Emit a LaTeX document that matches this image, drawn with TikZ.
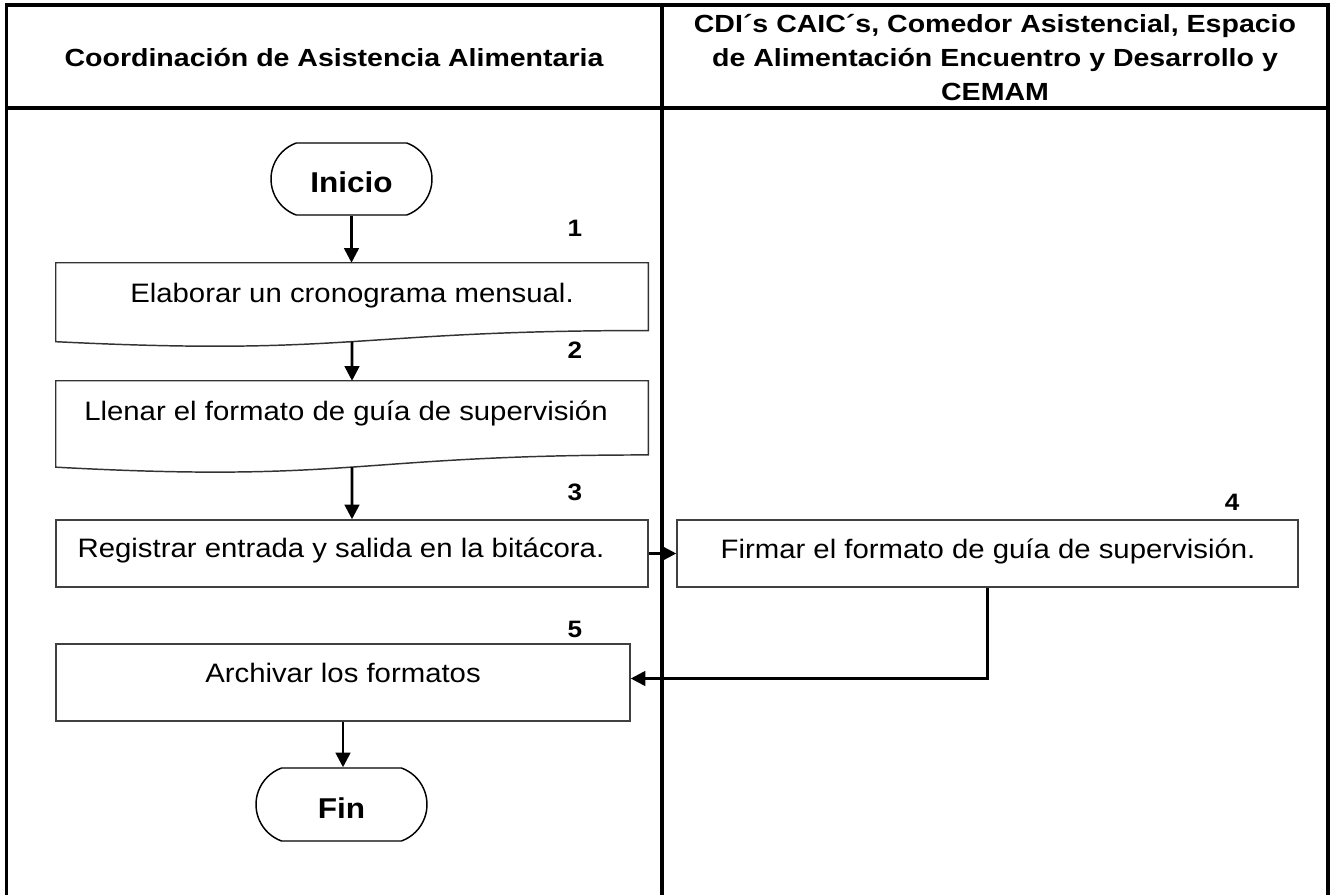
\documentclass[tikz,border=0pt]{standalone}
\usepackage{fontspec}
\setmainfont{Liberation Sans}[FakeStretch=1.1]
\newfontfamily\headfont{Liberation Sans}[FakeStretch=1.15]
\usetikzlibrary{calc,arrows.meta,shapes.misc}

\tikzset{
  frame/.style={line width=2.5pt},
  box/.style={draw=black!75, line width=1.1pt, rectangle, inner sep=0pt},
  docbox/.style={rectangle, inner sep=0pt},
  docline/.style={draw=black!80, line width=1.1pt},
  term/.style={draw, line width=1.1pt, rounded rectangle, rounded rectangle arc length=140,
    inner sep=0pt, font=\bfseries\fontsize{21.5}{24}\selectfont, text depth=0pt},
  txt/.style={anchor=base, inner sep=0pt, font=\fontsize{20}{24}\selectfont},
  num/.style={anchor=base, inner sep=0pt, font=\bfseries\fontsize{17.8}{20}\selectfont},
  head/.style={inner sep=0pt, align=center, font=\headfont\bfseries\fontsize{18.6}{25.5}\selectfont},
  flow/.style={line width=2pt, -{Triangle[length=11pt,width=11pt]}},
}

\begin{document}
\begin{tikzpicture}[x=0.75pt,y=-0.75pt]
\useasboundingbox (0,0) rectangle (1331,895);

% marco y carriles
\draw[line width=3pt] (5,5) -- (1329.5,5);
\draw[frame] (6.5,5) -- (6.5,895);
\draw[frame] (1328,5) -- (1328,895);
\draw[frame] (6.5,108) -- (1328,108);
\draw[frame] (662,5) -- (662,895);

\node[head, anchor=base] (hd-coord) at (334,67) {Coordinación de Asistencia Alimentaria};
\node[head] (hd-cdi) at (995,58) {CDI´s CAIC´s, Comedor Asistencial, Espacio\\de Alimentación Encuentro y Desarrollo y\\CEMAM};

% inicio
\node[term, minimum width=120.75pt, minimum height=54pt, text height=21pt] (inicio) at (351.5,179) {Inicio};

% 1
\node[num] (n1) at (575,236) {1};
\node[docbox, minimum width=444pt, minimum height=63pt] (elab) at (352,305) {};
\draw[docline] (elab.north west) -- (elab.north east)
  -- ($(elab.north east)!0.802!(elab.south east)$)
  .. controls ($(elab.north)!0.802!(elab.south)$) and ($(elab.north)!1.108!(elab.south)$)
  .. ($(elab.north west)!0.934!(elab.south west)$) coordinate[pos=.5] (elab-out) -- cycle;
\node[txt] (elab-t) at (352,302) {Elaborar un cronograma mensual.};

% 2
\node[num] (n2) at (575,358) {2};
\node[docbox, minimum width=444pt, minimum height=69pt] (llenar) at (352,427) {};
\draw[docline] (llenar.north west) -- (llenar.north east)
  -- ($(llenar.north east)!0.802!(llenar.south east)$)
  .. controls ($(llenar.north)!0.802!(llenar.south)$) and ($(llenar.north)!1.108!(llenar.south)$)
  .. ($(llenar.north west)!0.934!(llenar.south west)$) coordinate[pos=.5] (llenar-out) -- cycle;
\node[txt] (llenar-t) at (346,420) {Llenar el formato de guía de supervisión};

% 3
\node[num] (n3) at (575,500) {3};
\node[box, minimum width=444pt, minimum height=50.25pt] (regis) at (352,553.5) {};
\node[txt] (regis-t) at (341,557) {Registrar entrada y salida en la bitácora.};

% 4
\node[num] (n4) at (1232,510) {4};
\node[box, minimum width=465.75pt, minimum height=50.25pt] (firmar) at (987.5,553.5) {};
\node[txt] (firmar-t) at (988,558) {Firmar el formato de guía de supervisión.};

% 5
\node[num] (n5) at (575,637) {5};
\node[box, minimum width=430.5pt, minimum height=57.75pt] (archi) at (343,682.5) {};
\node[txt] (archi-t) at (343,682) {Archivar los formatos};

% fin
\node[term, minimum width=128.25pt, minimum height=54.75pt, text height=20.25pt] (fin) at (341.5,804.5) {Fin};

% flechas
\draw[flow] (inicio.south) -- (inicio.south |- elab.north);
\draw[flow] (elab-out) -- (llenar.north);
\draw[flow] (llenar-out) -- (regis.north);
\draw[flow] (regis.east) -- (firmar.west);
\draw[flow] (firmar.south) |- ([yshift=3pt]archi.east);
\draw[flow] (archi.south) -- (archi.south |- fin.north);

\end{tikzpicture}
\end{document}
